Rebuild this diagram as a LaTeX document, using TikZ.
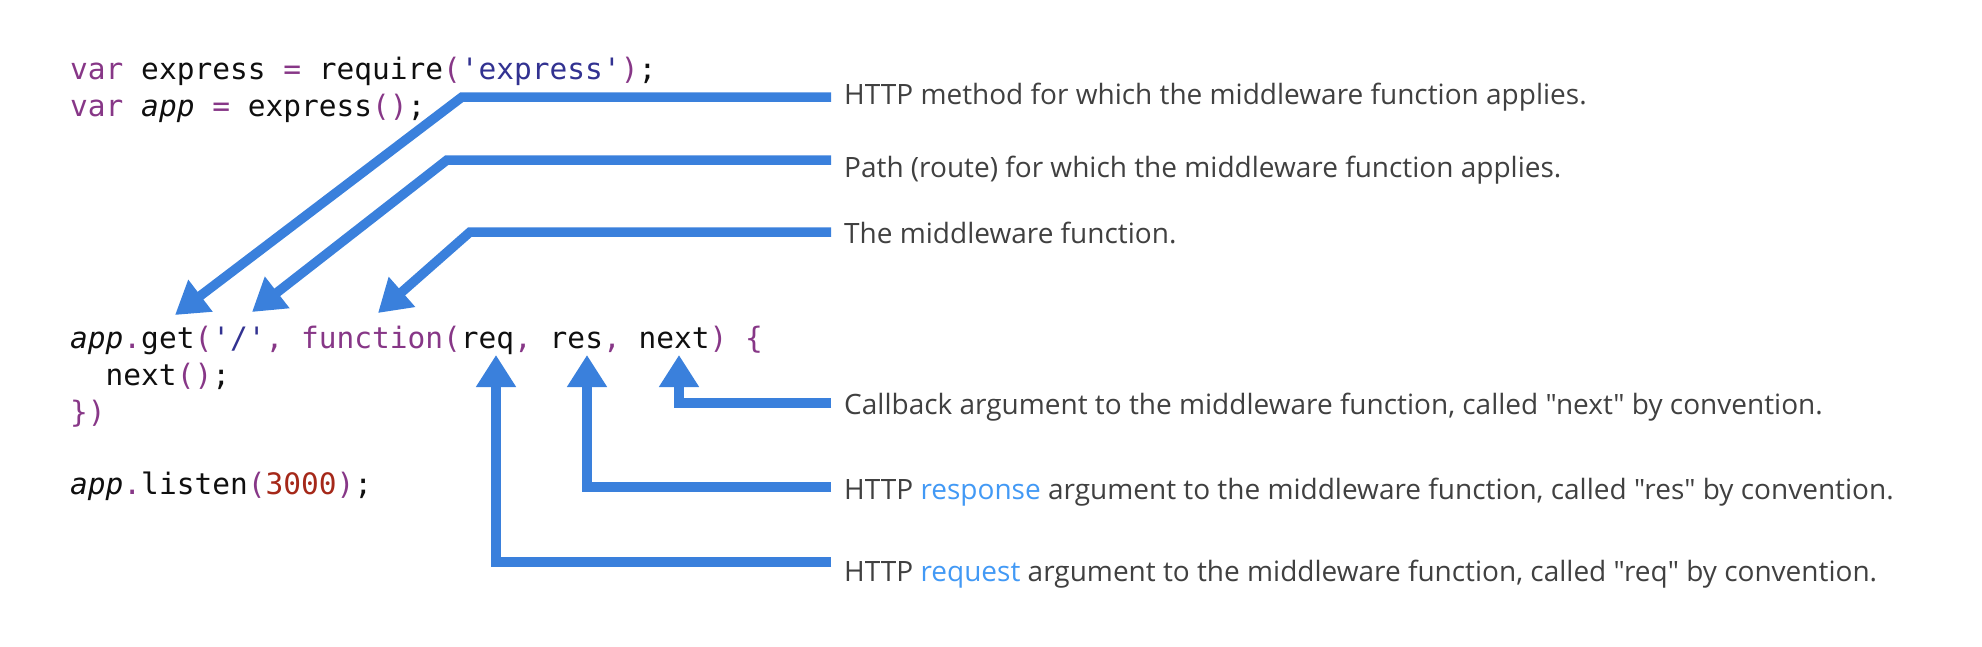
\documentclass[tikz,border=0pt]{standalone}
\usepackage{fontspec}
\setmainfont{Open Sans}[Ligatures=TeXOff]
\setmonofont{DejaVu Sans Mono}
\usetikzlibrary{arrows.meta}
\definecolor{arrowblue}{RGB}{58,128,220}
\definecolor{linkblue}{RGB}{66,153,245}
\definecolor{txtgray}{RGB}{64,64,64}
\definecolor{kwpurple}{RGB}{135,55,135}
\definecolor{strblue}{RGB}{50,50,145}
\definecolor{numred}{RGB}{165,40,25}
\definecolor{codeblack}{RGB}{15,15,15}
\newcommand{\kw}[1]{\textcolor{kwpurple}{#1}}
\newcommand{\strg}[1]{\textcolor{strblue}{#1}}
\newcommand{\numb}[1]{\textcolor{numred}{#1}}
\newcommand{\lnk}[1]{\textcolor{linkblue}{#1}}
\newcommand{\ital}[1]{\textit{#1}}
\begin{document}
\begin{tikzpicture}[x=1pt,y=-1pt,
  code/.style={anchor=base west, inner sep=0pt, font=\fontsize{29.5}{29.5}\selectfont\ttfamily, text=codeblack},
  note/.style={anchor=base west, inner sep=0pt, font=\fontsize{28}{28}\selectfont, text=txtgray},
  arr/.style={draw=arrowblue, line width=9.5pt, line join=miter, -{Triangle[length=32pt,width=38pt]}}]
\useasboundingbox (0,0) rectangle (1982,646);
% code
\node[code] (l1) at (70,79) {\kw{var} express \kw{=} require\kw{(}\strg{'express'}\kw{)};};
\node[code] (l2) at (70,116) {\kw{var} \ital{app} \kw{=} express\kw{()};};
\node[code] (l3) at (70,348) {\ital{app}\kw{.}get\kw{(}\strg{'/'}\kw{,} \kw{function(}req\kw{,} res\kw{,} next\kw{)} \kw{\{}};
\node[code] (l4) at (70,385) {\phantom{xx}next\kw{()};};
\node[code] (l5) at (70,422) {\kw{\})}};
\node[code] (l6) at (70,494) {\ital{app}\kw{.}listen\kw{(}\numb{3000}\kw{)};};
% notes
\node[note] (t1) at (844,104) {HTTP method for which the middleware function applies.};
\node[note] (t2) at (844,177) {Path (route) for which the middleware function applies.};
\node[note] (t3) at (844,243) {The middleware function.};
\node[note] (t4) at (844,414) {Callback argument to the middleware function, called "next" by convention.};
\node[note] (t5) at (844,499) {HTTP \lnk{response} argument to the middleware function, called "res" by convention.};
\node[note] (t6) at (844,581) {HTTP \lnk{request} argument to the middleware function, called "req" by convention.};
% connector points
\coordinate (s1) at (831,97);  \coordinate (k1) at (462,97);  \coordinate (p1) at (175,315);
\coordinate (s2) at (831,160); \coordinate (k2) at (447,160); \coordinate (p2) at (252,312);
\coordinate (s3) at (831,232); \coordinate (k3) at (470,232); \coordinate (p3) at (378,313);
\coordinate (s4) at (831,403); \coordinate (k4) at (679,403); \coordinate (p4) at (679,355);
\coordinate (s5) at (831,487); \coordinate (k5) at (587,487); \coordinate (p5) at (587,355);
\coordinate (s6) at (831,562); \coordinate (k6) at (496,562); \coordinate (p6) at (496,355);
\draw[arr] (s1) -- (k1) -- (p1);
\draw[arr] (s2) -- (k2) -- (p2);
\draw[arr] (s3) -- (k3) -- (p3);
\draw[arr] (s4) -- (k4) -- (p4);
\draw[arr] (s5) -- (k5) -- (p5);
\draw[arr] (s6) -- (k6) -- (p6);
\end{tikzpicture}
\end{document}
